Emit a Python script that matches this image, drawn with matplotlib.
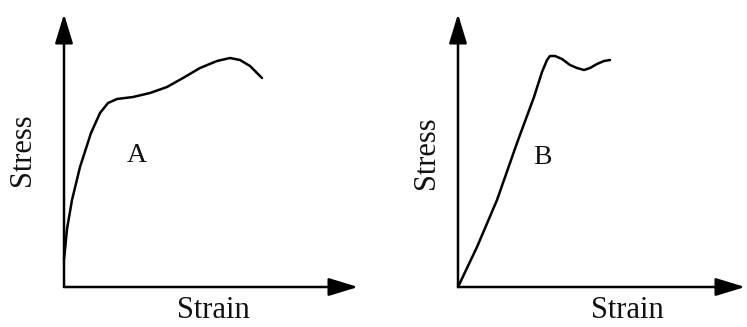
import matplotlib
matplotlib.use("Agg")
import matplotlib.pyplot as plt

# Curve A (strain, stress) in arbitrary units
strain_a = [0, 1, 3, 8, 16, 27, 36, 44, 53, 69, 86, 103, 119, 136, 153, 166, 176, 186, 198]
stress_a = [28, 37, 58, 87, 120, 154, 174, 184, 188, 190, 194, 200, 209, 219, 226, 229, 227, 221, 209]

# Curve B
strain_b = [0, 19, 39, 59, 76, 84, 89, 92, 97, 104, 112, 119, 126, 132, 139, 146, 152]
stress_b = [0, 40, 87, 144, 190, 215, 227, 231, 231, 228, 222, 219, 217, 219, 223, 226, 227]

labels = ["A", "B"]
x_label = "Strain"
y_label = "Stress"

W, H = 747, 327
fig = plt.figure(figsize=(W / 100, H / 100), dpi=100)
fig.patch.set_facecolor("white")

plt.rcParams["font.family"] = ["Liberation Serif", "DejaVu Serif"]

panels = [
    dict(ox=64, oy=287, width=300, height=275, xtip=294, ytip=273,
         x=strain_a, y=stress_a, lab=labels[0], labpos=(73, 131),
         ylabpos=(-42, 137), xlabpos=(149, -23)),
    dict(ox=458, oy=287, width=289, height=275, xtip=287, ytip=273,
         x=strain_b, y=stress_b, lab=labels[1], labpos=(84, 129),
         ylabpos=(-31, 134), xlabpos=(169, -23)),
]

for p in panels:
    ax = fig.add_axes([p["ox"] / W, (H - p["oy"]) / H, p["width"] / W, p["height"] / H])
    ax.set_xlim(0, p["width"])
    ax.set_ylim(0, p["height"])
    ax.axis("off")
    arrow = dict(arrowstyle="-|>,head_length=1.8,head_width=0.55", lw=1.8,
                 color="black", shrinkA=0, shrinkB=0)
    ax.annotate("", xy=(p["xtip"], 0), xytext=(0, 0), arrowprops=arrow,
                annotation_clip=False)
    ax.annotate("", xy=(0, p["ytip"]), xytext=(0, 0), arrowprops=arrow,
                annotation_clip=False)
    ax.plot(p["x"], p["y"], color="black", lw=1.8, clip_on=False,
            solid_joinstyle="round", solid_capstyle="round")
    ax.text(*p["labpos"], p["lab"], fontsize=20, ha="center", va="center",
            color="#111111")
    ax.text(*p["ylabpos"], y_label, fontsize=22, rotation=90, ha="center",
            va="center", color="#111111", clip_on=False)
    ax.text(*p["xlabpos"], x_label, fontsize=22, ha="center", va="center",
            color="#111111", clip_on=False)

fig.savefig("out.png", dpi=100, facecolor="white")
